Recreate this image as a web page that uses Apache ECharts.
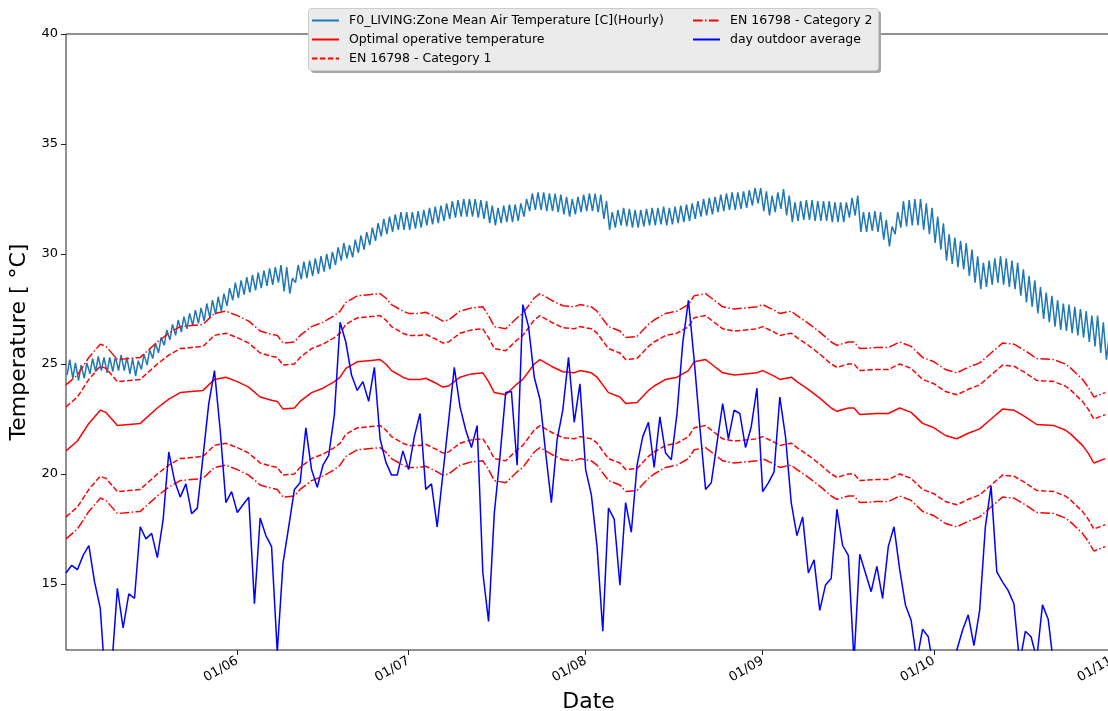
<!DOCTYPE html>
<html><head><meta charset="utf-8">
<script src="https://cdn.jsdelivr.net/npm/echarts@6/dist/echarts.min.js"></script>
<style>html,body{margin:0;padding:0;background:#fff;overflow:hidden}#c{width:1108px;height:711px}</style>
</head><body><div id="c"></div>
<script>
// Day index 0 = 02/05, one value per day
const xTickDays = [30, 60, 91, 122, 152, 183];
const xTickLabels = ['01/06', '01/07', '01/08', '01/09', '01/10', '01/11'];
const yTicks = [15, 20, 25, 30, 35, 40];

const zoneDailyMax = [
25.2,25.05,24.95,25.05,25.25,25.35,25.3,25.3,25.35,25.4,25.3,25.25,25.15,25.45,25.65,25.95,26.2,26.55,26.8,27.0,27.15,27.3,27.45,27.55,27.75,27.9,28.05,28.2,28.45,28.7,
28.8,28.95,29.05,29.15,29.25,29.35,29.4,29.5,29.4,28.9,29.5,29.65,29.7,29.8,29.9,30.0,30.1,30.3,30.5,30.4,30.65,30.85,31.0,31.2,31.4,31.6,31.7,31.8,31.9,31.9,
31.9,31.95,32.0,32.1,32.15,32.2,32.3,32.4,32.45,32.5,32.5,32.5,32.45,32.4,32.2,32.1,32.2,32.25,32.25,32.3,32.5,32.75,32.8,32.8,32.75,32.75,32.7,32.6,32.5,32.6,32.7,
32.75,32.75,32.7,32.4,31.9,32.0,32.1,32.05,32.0,32.0,32.05,32.1,32.1,32.15,32.1,32.15,32.2,32.25,32.3,32.4,32.5,32.55,32.6,32.7,32.75,32.8,32.8,32.85,32.9,33.0,33.0,
32.85,32.65,32.8,32.95,32.65,32.35,32.4,32.45,32.45,32.4,32.4,32.4,32.35,32.35,32.35,32.55,32.65,31.9,31.9,31.95,31.9,31.55,31.25,31.9,32.4,32.45,32.5,32.5,32.3,32.1,
31.7,31.4,30.9,30.75,30.6,30.5,30.2,29.9,29.6,29.7,29.8,29.9,29.8,29.7,29.6,29.3,29.0,28.8,28.5,28.25,28.1,27.9,27.75,27.7,27.6,27.5,27.4,27.2,27.2,26.9,26.2
];
const zoneDailyMin = [
24.5,24.35,24.25,24.35,24.55,24.65,24.7,24.6,24.65,24.7,24.7,24.55,24.45,24.75,24.95,25.25,25.5,25.85,26.1,26.3,26.45,26.6,26.75,26.85,26.95,27.1,27.25,27.4,27.65,27.9,
28.0,28.15,28.25,28.35,28.45,28.55,28.6,28.7,28.3,28.2,28.7,28.85,28.9,29.0,29.1,29.2,29.3,29.5,29.7,29.8,29.85,30.05,30.2,30.4,30.6,30.8,30.9,31.0,31.1,31.1,
31.1,31.15,31.2,31.3,31.35,31.4,31.5,31.6,31.65,31.7,31.7,31.7,31.65,31.6,31.4,31.3,31.4,31.45,31.45,31.5,31.7,31.95,32.0,32.0,31.95,31.95,31.9,31.8,31.7,31.8,31.9,
31.95,31.95,31.9,31.6,31.1,31.2,31.3,31.25,31.2,31.2,31.25,31.3,31.3,31.35,31.3,31.35,31.4,31.45,31.5,31.6,31.7,31.75,31.8,31.9,31.95,32.0,32.0,32.05,32.1,32.2,32.3,
31.95,31.75,31.9,32.05,31.75,31.45,31.5,31.55,31.55,31.5,31.5,31.5,31.45,31.45,31.45,31.65,31.75,31.0,31.0,31.05,31.0,30.65,30.35,30.9,31.2,31.25,31.3,31.3,31.1,30.9,
30.5,30.2,29.7,29.55,29.4,29.3,29.0,28.7,28.4,28.5,28.6,28.7,28.6,28.5,28.4,28.1,27.8,27.6,27.3,27.05,26.9,26.7,26.55,26.5,26.4,26.3,26.2,26.0,25.8,25.5,25.2
];

const optDays = [0,2,4,6,7,9,11,13,16,18,20,22,24,26,28,30,32,34,36,37,38,40,41,43,45,47,48,49,51,53,55,56,57,59,60,62,63,65,66,67,69,71,73,74,75,77,79,80,82,83,85,87,89,90,92,93,95,97,98,100,102,103,105,107,109,110,112,113,115,117,119,121,122,124,125,127,128,130,132,134,135,137,138,139,142,144,146,148,150,152,154,156,158,160,162,164,166,168,170,173,175,176,178,179,180,182];
const optValues = [21.05,21.5,22.3,22.9,22.8,22.2,22.25,22.3,23.0,23.4,23.7,23.75,23.8,24.3,24.4,24.2,23.95,23.5,23.35,23.3,22.95,23.0,23.3,23.7,23.9,24.2,24.4,24.8,25.1,25.15,25.2,25.0,24.7,24.4,24.3,24.3,24.35,24.1,23.95,24.0,24.4,24.55,24.6,24.2,23.7,23.6,24.1,24.3,25.0,25.2,24.9,24.65,24.6,24.7,24.6,24.4,23.7,23.5,23.2,23.25,23.8,24.0,24.3,24.4,24.7,25.1,25.2,25.0,24.6,24.5,24.55,24.6,24.7,24.45,24.3,24.4,24.2,23.85,23.45,23.0,22.85,23.0,23.0,22.7,22.75,22.75,23.0,22.8,22.3,22.1,21.75,21.6,21.85,22.05,22.5,22.95,22.9,22.6,22.25,22.2,22.0,21.8,21.3,20.95,20.5,20.7];

// EN 16798 band offsets from the optimal temperature [upper, lower]
const cat1Offsets = [2, -3];
const cat2Offsets = [3, -4];

const outdoorDaily = [
15.5,15.85,15.65,16.3,16.75,15.1,13.9,10.1,11.2,14.8,13.0,14.55,14.35,17.6,17.05,17.3,16.2,17.9,21.0,19.7,18.95,19.55,18.2,18.45,20.8,23.2,24.7,22.0,18.7,19.2,
18.25,18.6,18.95,14.1,18.0,17.2,16.7,11.9,15.95,17.6,19.3,19.6,22.1,20.2,19.4,20.4,20.85,22.7,26.9,26.0,24.5,23.8,24.2,23.3,24.85,21.6,20.55,19.95,19.95,21.05,
20.2,21.7,22.75,19.3,19.55,17.6,20.0,22.4,24.85,23.05,22.0,21.2,22.2,15.5,13.3,18.2,20.8,23.7,23.75,20.4,27.7,26.7,24.4,23.4,20.95,18.7,21.55,22.9,25.3,22.35,24.1,
20.2,19.05,16.7,12.85,18.45,17.95,14.95,18.7,17.35,20.4,21.7,22.35,20.3,22.6,20.95,20.65,22.75,25.95,27.9,25.2,22.15,19.3,19.6,21.4,23.2,21.6,22.9,22.75,21.2,22.15,23.9,
19.2,19.6,20.1,23.5,21.7,18.7,17.2,18.05,15.5,16.1,13.8,14.95,15.25,18.4,16.75,16.3,11.5,16.35,15.5,14.65,15.8,14.35,16.7,17.6,15.65,14.05,13.35,11.5,12.95,12.6,
11.0,10.5,10.8,11.2,12.0,12.9,13.6,12.2,13.8,17.6,19.45,15.55,15.1,14.7,14.1,11.4,12.85,12.6,11.6,14.05,13.4,11.2,10.4,10.0,10.6,9.8,9.5,10.1,9.6,9.3,9.0
];

const NAMES = {
  zone: 'F0_LIVING:Zone Mean Air Temperature [C](Hourly)',
  opt: 'Optimal operative temperature',
  cat1: 'EN 16798 - Category 1',
  cat2: 'EN 16798 - Category 2',
  out: 'day outdoor average'
};

const zoneData = [];
zoneDailyMin.forEach((v, d) => { zoneData.push([d + 0.2, v]); zoneData.push([d + 0.65, zoneDailyMax[d]]); });
const outData = outdoorDaily.map((v, d) => [d, v]);
const optData = optDays.map((d, i) => [d, optValues[i]]);
const band = off => optDays.map((d, i) => [d, +(optValues[i] + off).toFixed(2)]);

const FONT = 'DejaVu Sans';
const DASH = [5.5, 2.4];
const DASHDOT = [9.6, 2.4, 1.5, 2.4];
const RED = '#ff0000';

function line(name, data, color, type) {
  return {
    name, type: 'line', data, symbol: 'none', showSymbol: false, clip: true,
    lineStyle: { color, width: 1.5, type }, itemStyle: { color }, animation: false
  };
}

const legendCommon = {
  orient: 'vertical', top: 9, z: 20, padding: 5,
  itemWidth: 27, itemHeight: 12, itemGap: 6, selectedMode: false,
  itemStyle: { opacity: 0, borderWidth: 0 },
  textStyle: { fontFamily: FONT, fontSize: 12.5, color: '#000', padding: [0, 0, 0, 5] }
};

const chart = echarts.init(document.getElementById('c'), null, { renderer: 'canvas' });
chart.setOption({
  animation: false,
  backgroundColor: '#ffffff',
  textStyle: { fontFamily: FONT },
  grid: { left: 66, top: 34, width: 1045, height: 616, show: true, borderColor: '#222', borderWidth: 1, outerBoundsMode: 'none', containLabel: false },
  xAxis: {
    type: 'value', min: 0, max: 183,
    name: 'Date', nameLocation: 'middle', nameGap: 41,
    nameTextStyle: { fontFamily: FONT, fontSize: 22, color: '#000' },
    axisLine: { show: false },
    axisTick: { show: true, length: 5, lineStyle: { color: '#222' }, customValues: xTickDays },
    axisLabel: {
      customValues: xTickDays, rotate: 30, margin: 10, fontFamily: FONT, fontSize: 13, color: '#000',
      formatter: v => { const i = xTickDays.indexOf(Math.round(v)); return i >= 0 ? xTickLabels[i] : ''; }
    },
    splitLine: { show: false }
  },
  yAxis: {
    type: 'value', min: 12, max: 40,
    name: 'Temperature [ °C]', nameLocation: 'middle', nameGap: 35, nameRotate: 90,
    nameTextStyle: { fontFamily: FONT, fontSize: 22, color: '#000' },
    axisLine: { show: false },
    axisTick: { show: true, length: 5, lineStyle: { color: '#222' }, customValues: yTicks },
    axisLabel: { customValues: yTicks, margin: 8, fontFamily: FONT, fontSize: 13, color: '#000' },
    splitLine: { show: false }
  },
  graphic: [
    { type: 'rect', left: 311, top: 11, z: 10, shape: { width: 570, height: 62, r: 3 }, style: { fill: '#a6a6a6' } },
    { type: 'rect', left: 308, top: 8, z: 11, shape: { width: 570, height: 62, r: 3 }, style: { fill: '#ebebeb', stroke: '#cccccc', lineWidth: 1 } }
  ],
  legend: [
    Object.assign({ data: [NAMES.zone, NAMES.opt, NAMES.cat1], left: 306 }, legendCommon),
    Object.assign({ data: [NAMES.cat2, NAMES.out], left: 687 }, legendCommon)
  ],
  series: [
    line(NAMES.zone, zoneData, '#1f77b4', 'solid'),
    line(NAMES.opt, optData, RED, 'solid'),
    line(NAMES.cat1, band(cat1Offsets[0]), RED, DASH),
    line(NAMES.cat1, band(cat1Offsets[1]), RED, DASH),
    line(NAMES.cat2, band(cat2Offsets[0]), RED, DASHDOT),
    line(NAMES.cat2, band(cat2Offsets[1]), RED, DASHDOT),
    line(NAMES.out, outData, '#0000ff', 'solid')
  ]
});
</script></body></html>
